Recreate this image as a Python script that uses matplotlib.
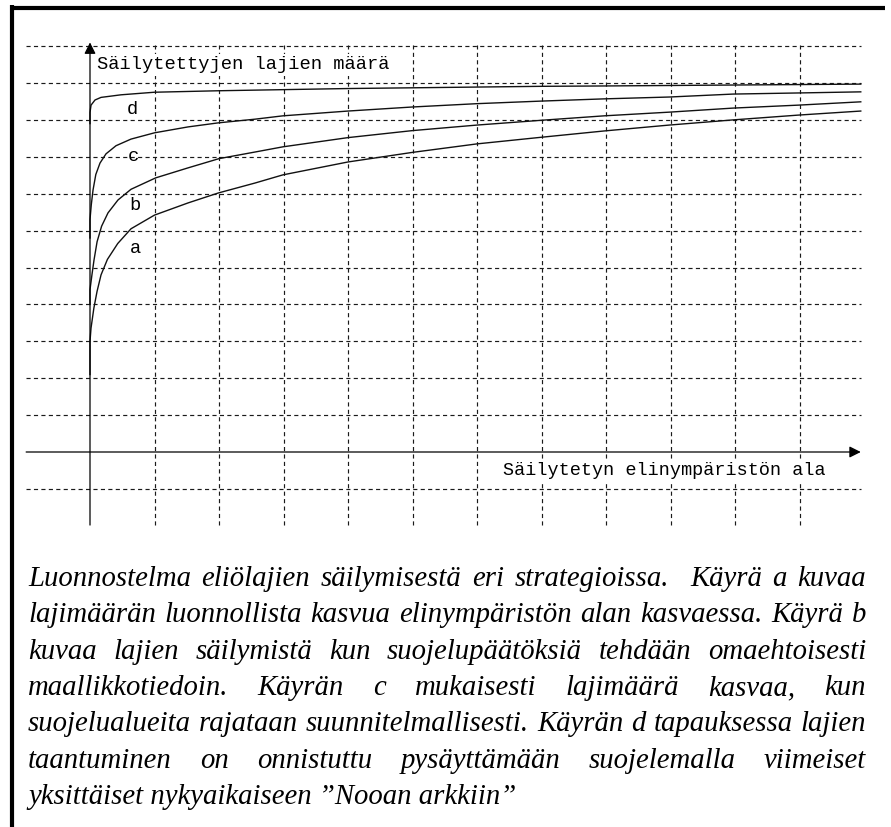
import matplotlib
matplotlib.use('Agg')
import matplotlib.pyplot as plt

# curves, in grid units (one unit = one grid cell)
a_x = [0, 0, 0.016, 0.06, 0.109, 0.171, 0.27, 0.43, 0.636, 1.0, 1.52, 1.99, 2.56, 2.99, 4.0, 5.0, 6.0, 7.0, 7.97, 8.98, 9.97, 10.98, 11.95]
a_y = [2.1, 3.0, 3.36, 3.9, 4.35, 4.8, 5.22, 5.65, 6.05, 6.42, 6.75, 7.02, 7.29, 7.51, 7.86, 8.12, 8.35, 8.53, 8.70, 8.86, 9.00, 9.13, 9.24]

b_x = [0, 0, 0.03, 0.062, 0.11, 0.18, 0.279, 0.434, 0.636, 1.02, 1.52, 2.0, 2.56, 2.99, 4.0, 5.0, 6.0, 7.0, 7.97, 8.98, 9.97, 10.98, 11.95]
b_y = [4.0, 4.4, 4.8, 5.2, 5.7, 6.12, 6.48, 6.83, 7.12, 7.43, 7.70, 7.95, 8.13, 8.27, 8.52, 8.71, 8.86, 8.99, 9.11, 9.21, 9.32, 9.40, 9.49]

c_x = [0, 0, 0.02, 0.047, 0.09, 0.155, 0.248, 0.403, 0.636, 1.0, 1.52, 1.99, 2.56, 2.99, 4.0, 5.0, 6.0, 7.0, 7.97, 8.98, 9.97, 10.98, 11.95]
c_y = [5.8, 6.3, 6.7, 7.10, 7.52, 7.83, 8.08, 8.30, 8.48, 8.65, 8.81, 8.92, 9.02, 9.11, 9.24, 9.35, 9.44, 9.51, 9.57, 9.62, 9.70, 9.73, 9.76]

d_x = [0, 0, 0.016, 0.078, 0.171, 0.481, 1.0, 2.0, 3.0, 4.0, 5.0, 6.0, 7.0, 8.0, 11.95]
d_y = [8.9, 9.2, 9.40, 9.54, 9.61, 9.68, 9.75, 9.79, 9.82, 9.85, 9.87, 9.89, 9.91, 9.92, 9.97]

curves = {'a': (a_x, a_y), 'b': (b_x, b_y), 'c': (c_x, c_y), 'd': (d_x, d_y)}
curve_labels = {'d': (0.65, 9.27), 'c': (0.67, 8.0), 'b': (0.70, 6.69), 'a': (0.70, 5.52)}

grid_rows = [-1, 1, 2, 3, 4, 5, 6, 7, 8, 9, 10, 11]
grid_cols = [1, 2, 3, 4, 5, 6, 7, 8, 9, 10, 11]

y_title = 'Säilytettyjen lajien määrä'
x_title = 'Säilytetyn elinympäristön ala'

caption = [
    'Luonnostelma eliölajien säilymisestä eri strategioissa.  Käyrä a kuvaa',
    'lajimäärän luonnollista kasvua elinympäristön alan kasvaessa. Käyrä b',
    'kuvaa lajien säilymistä kun suojelupäätöksiä tehdään omaehtoisesti',
    'maallikkotiedoin. Käyrän c mukaisesti lajimäärä kasvaa, kun',
    'suojelualueita rajataan suunnitelmallisesti. Käyrän d tapauksessa lajien',
    'taantuminen on onnistuttu pysäyttämään suojelemalla viimeiset',
    'yksittäiset nykyaikaiseen ”Nooan arkkiin”',
]

W, H = 891, 827
fig = plt.figure(figsize=(W / 100, H / 100), dpi=100)
fig.patch.set_facecolor('white')

# chart axes placed in pixels: origin at (90, 452), 64.5 px per column, 36.9 px per row
left_px, right_px, top_px, bot_px = 20, 880, 35, 535
ax = fig.add_axes([left_px / W, 1 - bot_px / H, (right_px - left_px) / W, (bot_px - top_px) / H])
ax.set_xlim((left_px - 90) / 64.5, (right_px - 90) / 64.5)
ax.set_ylim((452 - bot_px) / 36.9, (452 - top_px) / 36.9)
ax.axis('off')

dash = (0, (3.5, 2.8))
ax.hlines(grid_rows, -0.99, 11.95, colors='#1a1a1a', linestyles=dash, lw=0.85, zorder=1)
ax.vlines(grid_cols, -1.98, 11.03, colors='#1a1a1a', linestyles=dash, lw=0.85, zorder=1)

# axes with arrow heads
ax.annotate('', xy=(0, 11.1), xytext=(0, -1.98),
            arrowprops=dict(arrowstyle='-|>', color='black', lw=0.9, mutation_scale=17, shrinkA=0, shrinkB=0), zorder=3)
ax.annotate('', xy=(11.95, 0), xytext=(-0.99, 0),
            arrowprops=dict(arrowstyle='-|>', color='black', lw=0.9, mutation_scale=17, shrinkA=0, shrinkB=0), zorder=3)

for name, (xs, ys) in curves.items():
    ax.plot(xs, ys, color='#111111', lw=1.0, zorder=2)
    lx, ly = curve_labels[name]
    ax.text(lx, ly, name, family='Liberation Mono', fontsize=13.5, ha='center', va='center', zorder=4)

box = dict(boxstyle='square,pad=0.15', fc='white', ec='none')
ax.text(0.11, 10.49, y_title, family='Liberation Mono', fontsize=13.5, ha='left', va='center', bbox=box, zorder=4)
ax.text(11.40, -0.49, x_title, family='Liberation Mono', fontsize=13.3, ha='right', va='center', bbox=box, zorder=4)

# overlay in pixel coordinates for the frame and the caption
cap = fig.add_axes([0, 0, 1, 1])
cap.set_xlim(0, W)
cap.set_ylim(H, 0)
cap.axis('off')
cap.plot([12, 12], [5, H], color='black', lw=3, solid_capstyle='butt')
cap.plot([10, 885], [7.5, 7.5], color='black', lw=3, solid_capstyle='butt')

renderer = fig.canvas.get_renderer()
font = dict(family='Liberation Serif', style='italic', color='black')


def text_width(s, size):
    t = cap.text(0, 0, s, fontsize=size, **font)
    w = t.get_window_extent(renderer).width
    t.remove()
    return w


x0, x1 = 28, 866
# font size chosen so that the tightest justified line fits the text block
probe = max(text_width(line, 20) for line in caption[:-1])
fs = 20 * (x1 - x0 - 4) / probe

base0, pitch = 586, 36.3
for i, line in enumerate(caption):
    y = base0 + i * pitch
    if i == len(caption) - 1:
        cap.text(x0, y, line, fontsize=fs, va='baseline', ha='left', **font)
        continue
    words = line.split(' ')
    widths = [text_width(w, fs) if w else 0 for w in words]
    gap = (x1 - x0 - sum(widths)) / (len(words) - 1)
    x = x0
    for w, wd in zip(words, widths):
        if w:
            cap.text(x, y, w, fontsize=fs, va='baseline', ha='left', **font)
        x += wd + gap

fig.savefig('out.png', dpi=100, facecolor='white')
